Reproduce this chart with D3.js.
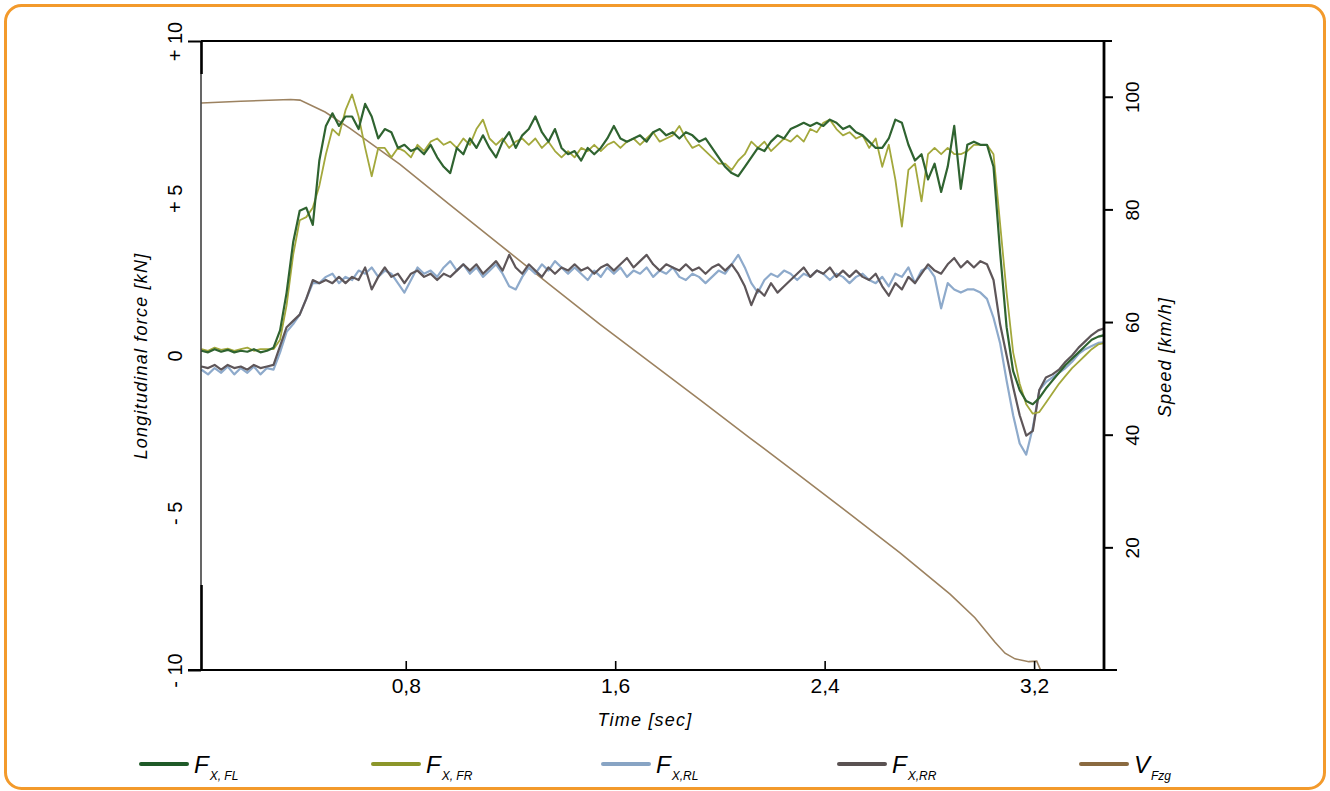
<!DOCTYPE html>
<html>
<head>
<meta charset="utf-8">
<script src="https://cdn.jsdelivr.net/npm/d3@7"></script>
<style>
  body { margin: 0; background: #fff; }
  svg { display: block; font-family: "Liberation Sans", Arial, sans-serif; }
</style>
</head>
<body>
<svg id="chart" width="1330" height="791"></svg>
<script>
// sample times [sec] for the four force channels
var time = [
  0.02,0.045,0.07,0.095,0.12,0.145,0.17,0.195,0.22,0.245,
  0.27,0.295,0.32,0.345,0.37,0.395,0.42,0.445,0.47,0.495,
  0.52,0.545,0.57,0.595,0.62,0.645,0.67,0.695,0.72,0.745,
  0.77,0.795,0.82,0.845,0.87,0.895,0.92,0.945,0.97,0.995,
  1.02,1.045,1.07,1.095,1.12,1.145,1.17,1.195,1.22,1.245,
  1.27,1.295,1.32,1.345,1.37,1.395,1.42,1.445,1.47,1.495,
  1.52,1.545,1.57,1.595,1.62,1.645,1.67,1.695,1.72,1.745,
  1.77,1.795,1.82,1.845,1.87,1.895,1.92,1.945,1.97,1.995,
  2.02,2.045,2.07,2.095,2.12,2.145,2.17,2.195,2.22,2.245,
  2.27,2.295,2.32,2.345,2.37,2.395,2.42,2.445,2.47,2.495,
  2.52,2.545,2.57,2.595,2.62,2.645,2.67,2.695,2.72,2.745,
  2.77,2.795,2.82,2.845,2.87,2.895,2.92,2.945,2.97,2.995,
  3.02,3.045,3.07,3.095,3.12,3.145,3.17,3.195,3.22,3.245,
  3.27,3.295,3.32,3.345,3.37,3.395,3.42,3.445,3.47
];

// longitudinal force [kN]
var fxFL = [
  0.15,0.1,0.2,0.12,0.18,0.1,0.15,0.12,0.2,0.1,
  0.15,0.25,0.8,2.0,3.6,4.6,4.7,4.15,6.2,7.3,
  7.7,7.3,7.6,7.6,7.2,8.0,7.6,6.9,7.2,7.1,
  6.6,6.7,6.5,6.6,6.4,6.7,6.3,6.0,5.8,6.6,
  6.4,6.9,6.6,7.0,6.6,6.3,6.8,7.1,6.6,7.0,
  7.2,7.6,7.1,6.8,7.2,6.6,6.4,6.5,6.2,6.6,
  6.4,6.6,6.9,7.3,6.9,6.8,6.9,7.0,6.8,7.1,
  7.2,7.0,7.1,6.9,7.1,7.0,6.8,6.9,6.6,6.3,
  6.0,5.8,5.7,6.0,6.3,6.6,6.5,6.8,7.0,6.9,
  7.2,7.3,7.4,7.3,7.4,7.3,7.5,7.4,7.2,7.3,
  7.1,7.0,6.8,6.6,6.6,6.9,7.5,7.4,6.7,6.2,
  6.4,5.6,6.1,5.2,6.0,7.3,5.3,6.7,6.8,6.7,
  6.7,6.0,3.3,0.9,-0.5,-1.1,-1.45,-1.55,-1.35,-1.05,
  -0.8,-0.55,-0.3,-0.1,0.1,0.3,0.5,0.6,0.65
];
var fxFR = [
  0.2,0.15,0.25,0.18,0.22,0.15,0.2,0.25,0.15,0.2,
  0.2,0.2,0.5,1.6,3.2,4.3,4.4,4.7,5.4,6.4,
  7.2,7.0,7.8,8.3,7.6,6.6,5.7,6.6,6.6,6.3,
  6.6,6.5,6.3,6.7,6.5,6.8,6.9,6.7,6.8,6.6,
  6.9,6.7,7.2,7.5,6.9,6.7,6.9,6.6,6.8,6.9,
  6.7,6.9,6.6,6.8,6.5,6.3,6.5,6.3,6.6,6.5,
  6.7,6.5,6.7,6.8,6.6,6.8,6.9,6.7,6.9,7.1,
  6.8,6.9,7.0,7.3,6.9,6.6,6.7,6.5,6.3,6.1,
  6.1,5.9,6.2,6.4,6.8,6.6,6.8,6.5,6.7,6.9,
  6.8,7.0,6.8,7.2,7.1,7.4,7.5,7.2,7.0,7.1,
  6.9,7.0,6.6,6.9,6.0,6.7,5.6,4.1,5.9,6.1,
  4.9,6.4,6.6,6.4,6.6,6.4,6.4,6.5,6.7,6.7,
  6.7,6.4,4.2,2.0,0.1,-0.9,-1.55,-1.85,-1.8,-1.5,
  -1.2,-0.9,-0.65,-0.4,-0.2,0.0,0.2,0.35,0.4
];
var fxRL = [
  -0.45,-0.6,-0.4,-0.55,-0.35,-0.6,-0.4,-0.55,-0.35,-0.6,
  -0.4,-0.45,0.1,0.75,1.0,1.3,1.8,2.3,2.3,2.5,
  2.6,2.3,2.5,2.4,2.7,2.6,2.8,2.5,2.7,2.6,
  2.3,2.0,2.4,2.8,2.6,2.7,2.5,2.8,3.0,2.7,
  2.9,2.6,2.8,2.5,2.7,2.9,2.6,2.2,2.1,2.5,
  2.8,2.6,2.9,2.7,3.0,2.8,2.6,2.8,2.6,2.4,
  2.7,2.5,2.8,2.6,2.8,2.5,2.7,2.6,2.8,2.5,
  2.7,2.6,2.8,2.5,2.4,2.6,2.5,2.3,2.5,2.7,
  2.6,2.9,3.2,2.8,2.3,2.0,2.4,2.6,2.5,2.7,
  2.6,2.4,2.6,2.5,2.7,2.6,2.4,2.6,2.5,2.3,
  2.5,2.6,2.4,2.3,2.5,2.2,2.6,2.5,2.8,2.3,
  2.7,2.8,2.5,1.5,2.3,2.1,2.0,2.1,2.1,2.0,
  1.8,1.2,0.4,-0.8,-1.9,-2.8,-3.15,-2.3,-1.1,-0.85,
  -0.7,-0.55,-0.4,-0.2,0.05,0.2,0.3,0.4,0.42
];
var fxRR = [
  -0.35,-0.4,-0.3,-0.45,-0.3,-0.4,-0.35,-0.45,-0.3,-0.4,
  -0.35,-0.3,0.3,0.9,1.1,1.3,1.8,2.4,2.3,2.4,
  2.3,2.5,2.3,2.5,2.4,2.8,2.1,2.5,2.8,2.5,
  2.6,2.3,2.6,2.7,2.5,2.6,2.4,2.6,2.5,2.7,
  2.9,2.7,2.9,2.6,2.8,3.0,2.7,3.2,2.8,2.6,
  2.9,2.7,2.5,2.8,2.6,2.8,2.7,2.9,2.7,2.8,
  2.6,2.8,2.9,2.7,2.9,3.1,2.8,3.0,3.2,2.9,
  2.7,2.9,2.8,2.7,2.9,2.7,2.8,2.6,2.8,2.9,
  2.7,2.9,2.6,2.2,1.6,2.1,1.9,2.3,2.0,2.2,
  2.4,2.6,2.8,2.5,2.7,2.6,2.8,2.5,2.7,2.5,
  2.7,2.5,2.4,2.6,2.2,1.9,2.3,2.1,2.5,2.3,
  2.6,2.9,2.7,2.6,2.9,3.1,2.8,3.0,2.8,3.0,
  2.9,2.4,1.0,0.0,-1.0,-1.9,-2.55,-2.4,-1.1,-0.7,
  -0.6,-0.45,-0.2,0.0,0.25,0.45,0.65,0.8,0.87
];

// vehicle speed [km/h]
var speedTime = [0.02,0.17,0.36,0.396,0.492,0.587,0.778,0.969,1.16,1.351,1.542,1.733,1.924,2.115,2.306,2.497,2.688,2.879,2.974,3.05,3.089,3.127,3.18,3.21,3.225];
var speed = [98.9,99.2,99.5,99.4,97.3,94.4,88.0,80.8,73.7,66.6,59.6,52.9,46.2,39.4,32.7,25.9,19.0,11.7,7.5,3.2,1.2,0.2,-0.3,-0.2,-1.8];

var forceTicks = [-10, -5, 0, 5, 10];
var forceTickLabels = ["- 10", "- 5", "0", "+ 5", "+ 10"];
var speedTicks = [20, 40, 60, 80, 100];
var timeTicks = [0.8, 1.6, 2.4, 3.2];

var legendMain = ["F", "F", "F", "F", "V"];
var legendSub = ["X, FL", "X, FR", "X,RL", "X,RR", "Fzg"];

var plotLeft = 201, plotRight = 1104, plotTop = 41, plotBottom = 670;
var svg = d3.select("#chart");

// orange frame
svg.append("rect")
  .attr("x", 5.5).attr("y", 5.5)
  .attr("width", 1319).attr("height", 783)
  .attr("rx", 16)
  .attr("fill", "#fff")
  .attr("stroke", "#f39a2b")
  .attr("stroke-width", 3);

var x = d3.scaleLinear().domain([0.018, 3.467]).range([plotLeft, plotRight]);
var yF = d3.scaleLinear().domain([-10, 10]).range([plotBottom, plotTop]);
var yV = d3.scaleLinear().domain([-1.78, 109.9]).range([plotBottom, plotTop]);

svg.append("clipPath").attr("id", "plotclip")
  .append("rect")
  .attr("x", plotLeft).attr("y", plotTop)
  .attr("width", plotRight - plotLeft).attr("height", plotBottom - plotTop);

var plot = svg.append("g").attr("clip-path", "url(#plotclip)");

var speedLine = d3.line()
  .x(function(d, i) { return x(speedTime[i]); })
  .y(function(d) { return yV(d); });
var forceLine = d3.line()
  .x(function(d, i) { return x(time[i]); })
  .y(function(d) { return yF(d); });

plot.append("path")
  .attr("d", speedLine(speed))
  .attr("fill", "none")
  .attr("stroke", "#9c8260")
  .attr("stroke-width", 1.6);

var series = [
  { v: fxRL, c: "#8eaacb", w: 2.2 },
  { v: fxRR, c: "#5e5659", w: 2.2 },
  { v: fxFR, c: "#a3a83c", w: 1.8 },
  { v: fxFL, c: "#2f6330", w: 2.2 }
];
series.forEach(function(s) {
  plot.append("path")
    .attr("d", forceLine(s.v))
    .attr("fill", "none")
    .attr("stroke", s.c)
    .attr("stroke-width", s.w)
    .attr("stroke-linejoin", "round");
});

// frame lines
function hline(x1, x2, y, w) {
  svg.append("line").attr("x1", x1).attr("x2", x2).attr("y1", y).attr("y2", y)
    .attr("stroke", "#000").attr("stroke-width", w);
}
function vline(xx, y1, y2, w) {
  svg.append("line").attr("x1", xx).attr("x2", xx).attr("y1", y1).attr("y2", y2)
    .attr("stroke", "#000").attr("stroke-width", w);
}
hline(plotLeft, 1112, plotTop, 2.2);
hline(188, 1117, plotBottom, 2.2);
vline(plotLeft, plotTop, plotBottom, 1.2);
vline(plotLeft + 0.6, plotTop, 74, 2.4);
vline(plotLeft + 0.6, 585, plotBottom, 2.4);
vline(plotRight, plotTop, plotBottom + 1, 2.8);

// left axis
var gl = svg.append("g").attr("transform", "translate(" + plotLeft + ",0)")
  .call(d3.axisLeft(yF).tickValues(forceTicks).tickSize(13).tickSizeOuter(0)
    .tickFormat(function(d, i) { return forceTickLabels[i]; }));
gl.select(".domain").remove();
gl.selectAll(".tick line").attr("stroke-width", 2)
  .attr("opacity", function(d) { return Math.abs(d) === 10 ? 1 : 0; });
gl.selectAll(".tick text")
  .attr("x", 0).attr("dy", 0)
  .attr("transform", "translate(-19,0) rotate(-90)")
  .attr("text-anchor", "middle")
  .attr("fill", "#000")
  .style("font-size", "20px");

// right axis
var gr = svg.append("g").attr("transform", "translate(" + plotRight + ",0)")
  .call(d3.axisRight(yV).tickValues(speedTicks).tickSize(9).tickSizeOuter(0));
gr.select(".domain").remove();
gr.selectAll(".tick line").attr("stroke-width", 2);
gr.selectAll(".tick text")
  .attr("x", 0).attr("dy", 0)
  .attr("transform", "translate(35,0) rotate(-90)")
  .attr("text-anchor", "middle")
  .attr("fill", "#000")
  .style("font-size", "19px");

// bottom axis
var gb = svg.append("g").attr("transform", "translate(0," + plotBottom + ")")
  .call(d3.axisBottom(x).tickValues(timeTicks).tickSize(-9).tickSizeOuter(0).tickPadding(8)
    .tickFormat(function(d) { return d3.format(".1f")(d).replace(".", ","); }));
gb.select(".domain").remove();
gb.selectAll(".tick line").attr("stroke-width", 1.6);
gb.selectAll(".tick text").attr("fill", "#000").style("font-size", "21px");

// axis titles
function axisTitle(tx, ty, rot, label) {
  svg.append("text")
    .attr("transform", "translate(" + tx + "," + ty + ")" + (rot ? " rotate(-90)" : ""))
    .attr("text-anchor", "middle")
    .style("font-size", "18px").style("font-style", "italic").style("letter-spacing", "1.2px")
    .text(label);
}
axisTitle(147, 356, true, "Longitudinal force [kN]");
axisTitle(1171, 357, true, "Speed [km/h]");
axisTitle(645, 726, false, "Time [sec]");

// legend
var legendColors = ["#1f5a28", "#8c962a", "#88a4c4", "#5a5252", "#8a6a40"];
var legendX = [141, 373, 603, 839, 1081];
legendMain.forEach(function(m, i) {
  svg.append("line")
    .attr("x1", legendX[i]).attr("x2", legendX[i] + 46)
    .attr("y1", 764).attr("y2", 764)
    .attr("stroke", legendColors[i]).attr("stroke-width", 4)
    .attr("stroke-linecap", "round");
  var t = svg.append("text")
    .attr("x", legendX[i] + 53).attr("y", 773)
    .style("font-style", "italic");
  t.append("tspan").style("font-size", "24px").text(m);
  t.append("tspan").attr("dy", 7).attr("dx", 1).style("font-size", "12px").text(legendSub[i]);
});
</script>
</body>
</html>
